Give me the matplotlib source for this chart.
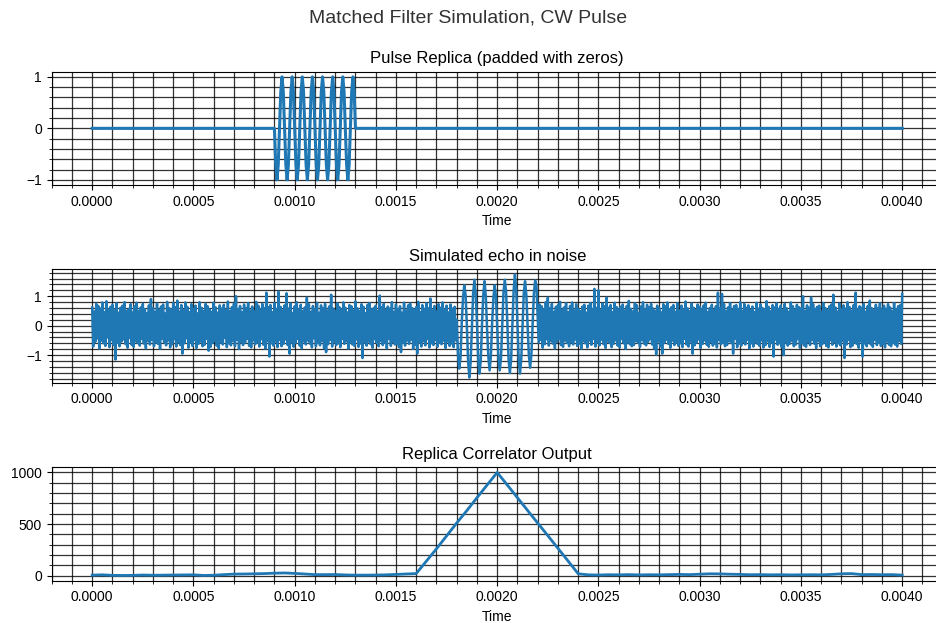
import matplotlib
matplotlib.use("Agg")
import matplotlib.pyplot as plt
import numpy as np
from matplotlib.ticker import MultipleLocator

plt.rcParams['font.family'] = ['Liberation Sans', 'DejaVu Sans']

# --- data --------------------------------------------------------------
duration = 0.004          # seconds shown on every panel
pulse_step = 0.00000625   # sample spacing inside the pulse
noise_step = 0.000005     # sample spacing of the noise

# replica: zero padding, then 8 cycles of the CW pulse
replica_start = 0.0009
replica_vals = [
    0, -0.71, -1, -0.71, 0, 0.71, 1, 0.71,
    0, -0.71, -1, -0.71, 0, 0.71, 1, 0.71,
    0, -0.71, -1, -0.71, 0, 0.71, 1, 0.71,
    0, -0.71, -1, -0.71, 0, 0.71, 1, 0.71,
    0, -0.71, -1, -0.71, 0, 0.71, 1, 0.71,
    0, -0.71, -1, -0.71, 0, 0.71, 1, 0.71,
    0, -0.71, -1, -0.71, 0, 0.71, 1, 0.71,
    0, -0.71, -1, -0.71, 0, 0.71, 1, 0.71,
    0,
]

# echo: noise before the echo, the echo itself, noise after
noise_before = [
    0.62, -0.71, 0.48, -0.55, 0.74, -0.43, 0.67, -0.78, 0.58, -0.51,
    0.79, -0.60, 0.46, -0.69, 0.83, -0.40, 0.55, -0.73, 0.64, -0.49,
    0.71, -0.66, 0.52, -1.15, 0.76, -0.58, 0.44, -0.70, 0.61, -0.54,
    0.68, -0.47, 0.80, -0.63, 0.50, -0.75, 0.57, -0.42, 0.73, -0.65,
    0.45, -0.72, 0.66, -0.53, 0.78, -0.59, 0.49, -0.68, 0.62, -0.45,
    0.74, -0.61, 0.56, -0.77, 0.43, -0.52, 0.69, -0.64, 0.90, -0.48,
    0.59, -0.70, 0.47, -0.56, 0.75, -0.62, 0.53, -0.79, 0.65, -0.44,
    0.72, -0.57, 0.41, -0.67, 0.81, -0.50, 0.60, -0.74, 0.54, -0.63,
    0.77, -0.46, 0.63, -0.71, 0.85, -0.55, 0.48, -0.66, 0.70, -0.95,
    0.52, -0.60, 0.79, -0.43, 0.64, -0.75, 0.46, -0.58, 0.73, -0.69,
    0.57, -0.49, 0.68, -0.76, 0.42, -0.62, 0.80, -0.54, 0.61, -0.70,
    0.50, -0.65, 0.74, -0.45, 0.66, -0.85, 0.55, -0.72, 0.47, -0.59,
    0.78, -0.51, 0.62, -0.68, 0.44, -0.77, 0.69, -0.56, 0.58, -0.64,
    0.71, -0.42, 0.53, -0.73, 0.82, -0.60, 0.49, -0.67, 0.63, -0.52,
    0.75, -0.70, 1.00, -0.48, 0.56, -0.79, 0.67, -0.55, 0.45, -0.66,
    0.72, -0.58, 0.60, -0.44, 0.77, -0.69, 0.51, -0.74, 0.65, -0.50,
    0.48, -0.63, 0.81, -0.57, 0.68, -0.71, 0.54, -0.46, 0.74, -0.65,
    0.59, -0.78, 1.12, -0.52, 0.63, -1.05, 0.70, -0.60, 0.46, -0.68,
    0.77, -0.54, 0.57, -0.73, 1.15, -0.49, 0.64, -0.70, 0.52, -0.62,
    0.69, -0.47, 1.10, -0.66, 0.58, -0.95, 0.75, -0.56, 0.43, -0.72,
    0.66, -0.59, 0.80, -0.45, 0.55, -0.68, 0.71, -0.77, 0.49, -0.53,
    0.62, -0.64, 0.95, -0.50, 0.73, -0.61, 0.47, -0.74, 0.67, -0.43,
    0.56, -0.70, 0.78, -0.58, 0.44, -0.67, 0.69, -0.52, 0.60, -0.76,
    0.74, -0.90, 0.51, -0.63, 0.65, -0.48, 1.05, -0.71, 0.58, -0.55,
    0.48, -0.66, 0.76, -0.60, 0.63, -0.73, 0.54, -0.45, 0.79, -0.62,
    0.61, -0.53, 0.45, -0.78, 0.70, -0.57, 0.66, -0.64, 0.52, -0.69,
    0.82, -0.47, 0.59, -0.72, 0.50, -0.61, 0.73, -1.10, 0.64, -0.56,
    0.43, -0.68, 0.71, -0.54, 0.77, -0.63, 0.55, -0.75, 0.60, -0.46,
    0.68, -0.59, 0.49, -0.70, 1.02, -0.52, 0.62, -0.66, 0.74, -0.58,
    0.53, -0.77, 0.65, -0.44, 0.58, -0.69, 0.80, -0.55, 0.47, -0.64,
    0.72, -0.61, 0.56, -0.73, 0.66, -0.90, 0.44, -0.57, 0.78, -0.68,
    0.51, -0.50, 0.69, -0.62, 0.75, -0.47, 0.60, -0.79, 0.54, -0.65,
    0.63, -0.95, 0.81, -0.56, 0.46, -0.71, 0.70, -0.53, 0.57, -0.67,
    0.76, -0.45, 0.59, -0.74, 0.92, -0.60, 0.52, -0.66, 0.67, -0.49,
    0.48, -0.72, 0.73, -0.58, 0.61, -0.63, 0.79, -0.51, 0.55, -0.76,
    0.68, -0.54, 0.45, -0.69, 0.72, -0.61, 0.58, -0.73, 0.64, -0.50,
]
echo_start = 0.0018
echo_vals = [
    0.20, -0.95, -1.46, -1.10, 0.10, 0.95, 1.37, 1.05,
    0.05, -1.20, -1.76, -1.25, -0.10, 1.10, 1.56, 1.10,
    0.15, -1.15, -1.63, -1.20, 0.05, 1.05, 1.51, 1.00,
    -0.10, -1.05, -1.52, -1.05, 0.10, 0.95, 1.37, 1.00,
    -0.05, -1.10, -1.52, -1.10, 0.05, 1.15, 1.56, 1.15,
    0.10, -1.15, -1.61, -1.15, 0.00, 1.20, 1.74, 1.25,
    0.05, -1.15, -1.63, -1.15, -0.05, 1.10, 1.51, 1.05,
    0.00, -1.00, -1.43, -1.00, 0.05, 1.10, 1.53, 1.35,
    0.30,
]
noise_after_start = 0.002205
noise_after = [
    -0.58, 0.72, -0.49, 0.66, -0.75, 0.55, -0.63, 0.80, -0.46, 0.95,
    -0.68, 0.59, -0.52, 0.74, -0.61, 0.47, -0.77, 0.64, -0.55, 0.70,
    -0.44, 0.81, -0.66, 0.53, -0.72, 0.62, -0.50, 0.76, -0.59, 0.45,
    -0.70, 0.67, -0.56, 0.79, -0.64, 0.51, -0.47, 0.73, -0.69, 0.58,
    -0.62, 0.49, -0.78, 0.65, -0.53, 0.71, -0.60, 0.44, -0.74, 0.68,
    -0.51, 0.77, -0.65, 0.56, -0.45, 1.25, -0.71, 0.60, -0.57, 1.20,
    -0.67, 0.52, -0.48, 0.75, -0.63, 0.66, -0.76, 0.95, -0.54, 0.61,
    -0.59, 0.70, -0.73, 0.46, -0.62, 0.78, -0.50, 0.63, -0.68, 0.55,
    -0.74, 0.64, -0.45, 0.72, -0.60, 0.51, -0.79, 0.67, -0.56, 0.84,
    -0.63, 0.57, -0.70, 0.48, -0.66, 0.76, -0.52, 0.69, -0.58, 0.43,
    -0.72, 0.65, -0.49, 0.80, -0.61, 0.54, -0.67, 0.71, -0.55, 0.62,
    -0.46, 0.74, -0.64, 0.58, -0.77, 0.50, -0.98, 0.68, -0.53, 0.60,
    -0.70, 0.45, -0.95, 0.73, -0.59, 0.66, -0.48, 0.79, -0.62, 0.56,
    -0.75, 0.63, -0.51, 0.70, -0.66, 0.47, -0.57, 0.77, -0.69, 0.52,
    -0.60, 0.68, -0.73, 0.55, -0.45, 0.82, -0.64, 0.59, -0.71, 0.49,
    -0.54, 0.75, -0.95, 0.61, -0.67, 0.53, -0.58, 0.72, -0.47, 0.64,
    -0.76, 0.57, -0.62, 0.69, -0.50, 0.78, -0.65, 0.46, -0.72, 0.60,
    -0.55, 0.71, -0.68, 0.52, -0.61, 0.66, -0.74, 1.12, -0.49, 0.58,
    -0.63, 1.08, -0.57, 0.73, -0.70, 0.48, -0.66, 0.62, -0.52, 0.77,
    -0.59, 0.54, -0.95, 0.67, -0.45, 0.70, -0.73, 0.56, -0.61, 0.80,
    -0.68, 0.50, -0.55, 0.74, -0.64, 0.61, -0.48, 0.69, -0.77, 0.53,
    -0.60, 0.65, -0.71, 0.46, -0.56, 0.78, -0.62, 0.58, -0.69, 0.72,
    -0.50, 0.60, -0.74, 0.55, -0.66, 0.83, -0.53, 0.64, -0.72, 0.49,
    -0.58, 0.70, -1.05, 0.62, -0.47, 0.76, -0.65, 0.57, -0.60, 0.68,
    -0.73, 0.52, -1.00, 0.74, -0.56, 0.59, -0.68, 0.47, -0.62, 0.79,
    -0.51, 0.66, -0.70, 0.54, -0.64, 0.71, -0.46, 0.63, -0.75, 0.58,
    -0.59, 1.00, -0.67, 0.50, -0.72, 0.69, -0.54, 0.61, -0.66, 0.95,
    -0.48, 0.73, -0.61, 0.57, -0.76, 0.64, -0.52, 0.68, -0.70, 0.45,
    -0.63, 0.77, -0.57, 0.60, -0.69, 0.53, -0.74, 0.66, -0.50, 0.72,
    -0.65, 1.05, -0.55, 0.62, -0.71, 0.48, -0.60, 0.75, -0.67, 0.56,
    -0.52, 0.69, -1.10, 0.58, -0.64, 0.80, -0.49, 0.63, -0.73, 0.51,
    -0.68, 0.70, -0.57, 1.12, -0.62, 0.55, -0.75, 0.66, -0.53, 0.61,
    -1.05, 0.74, -0.60, 0.47, -0.70, 0.67, -0.56, 0.85, -0.64, 0.59,
    -0.72, 0.52, -0.48, 0.71, -0.66, 0.60, -0.58, 0.76, -0.69, 0.54,
    -0.61, 0.68, -0.74, 0.57, -0.53, 0.73, -0.65, 0.62, -0.70, 0.50,
    -0.59, 0.77, -0.64, 0.56, -0.71, 0.66, -0.52, 0.70, -0.62, 1.08,
]

# correlator output, one value every 0.05 ms
corr_step = 0.00005
corr_vals = [
    5, 8, 3, 2, 3, 6, 4, 5, 6, 7,
    8, 2, 4, 10, 15, 16, 18, 20, 24, 26,
    22, 16, 10, 10, 11, 7, 5, 5, 6, 8,
    12, 16, 20, 140, 260, 385, 510, 630, 755, 878,
    1000, 878, 755, 632, 510, 388, 265, 142, 18, 8,
    6, 9, 8, 10, 7, 9, 8, 10, 12, 10,
    14, 18, 17, 14, 12, 9, 10, 8, 9, 7,
    8, 9, 8, 12, 18, 20, 10, 11, 9, 10,
    5,
]

# --- sample times --------------------------------------------------------
rep_t = replica_start + pulse_step * np.arange(len(replica_vals))
replica_t = np.concatenate([[0.0], rep_t, [duration]])
replica_y = np.concatenate([[0.0], replica_vals, [0.0]])

echo_t = np.concatenate([
    noise_step * np.arange(len(noise_before)),
    echo_start + pulse_step * np.arange(len(echo_vals)),
    noise_after_start + noise_step * np.arange(len(noise_after)),
])
echo_y = np.concatenate([noise_before, echo_vals, noise_after])

corr_t = corr_step * np.arange(len(corr_vals))

# --- figure ----------------------------------------------------------------
W, H = 936, 623
fig = plt.figure(figsize=(W / 100, H / 100), dpi=100)
fig.suptitle("Matched Filter Simulation, CW Pulse", fontsize=14,
             color='#333333', y=1 - 18 / H, va='center')

left = 51.7 / W
width = 891 / W
tops = [71.7, 269.3, 467.3]
ax_h = 113.3

panels = [
    ("Pulse Replica (padded with zeros)", replica_t, replica_y, 0.2, 2.2),
    ("Simulated echo in noise", echo_t, echo_y, 0.2, 1.8),
    ("Replica Correlator Output", corr_t, corr_vals, 100, 2.0),
]

for top, (title, t, y, yminor, lw) in zip(tops, panels):
    ax = fig.add_axes([left, 1 - (top + ax_h) / H, width, ax_h / H])
    ax.plot(t, y, color='#1f77b4', linewidth=lw)
    ax.set_xlim(-0.0002, 0.0042)
    ax.set_title(title, fontsize=12)
    ax.set_xlabel("Time", fontsize=10)
    ax.xaxis.set_major_locator(MultipleLocator(0.0005))
    ax.xaxis.set_minor_locator(MultipleLocator(0.0001))
    ax.yaxis.set_minor_locator(MultipleLocator(yminor))
    ax.grid(which='both', color='k', linewidth=0.9, alpha=0.8)
    ax.set_axisbelow(True)
    ax.tick_params(labelsize=10)
    ax.spines['right'].set_visible(False)

fig.savefig("out.png", dpi=100)
